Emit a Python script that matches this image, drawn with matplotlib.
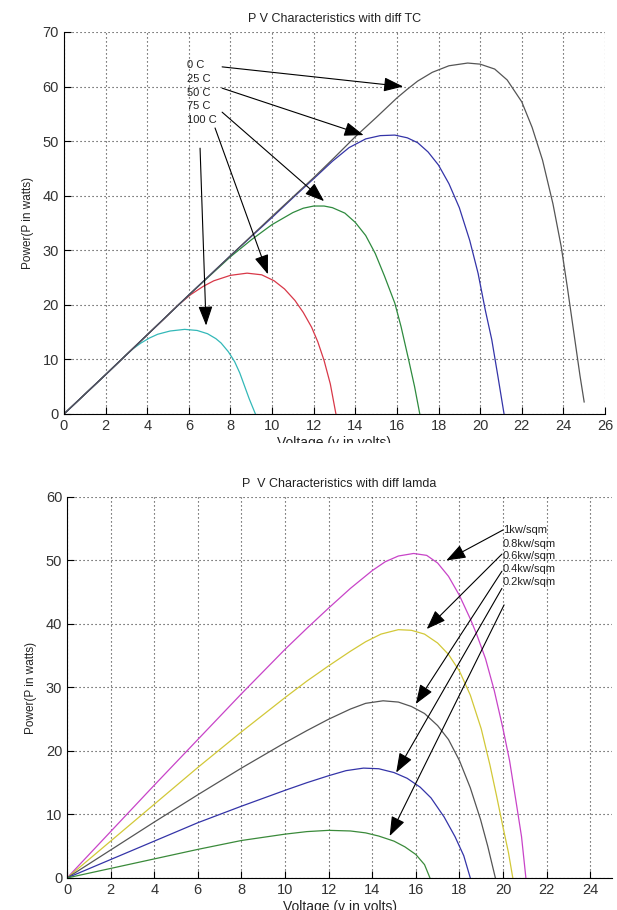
import matplotlib
matplotlib.use("Agg")
import matplotlib.pyplot as plt
from matplotlib.patches import Rectangle

plt.rcParams['font.family'] = ['Liberation Sans', 'DejaVu Sans']

# ---- top chart: P-V curves for different cell temperature ----
v_0c = [0, 2, 4, 6, 8, 10, 12, 13, 14, 15, 16, 16.5, 17, 17.7, 18.5, 19.4, 20, 20.7, 21.3,
        22, 22.5, 23, 23.5, 23.9, 24.2, 24.5, 24.8, 25]
p_0c = [0, 7.2, 14.5, 21.8, 29.0, 36.2, 43.3, 47.0, 50.8, 54.3, 57.9, 59.5, 61.0, 62.6, 63.8, 64.3,
        64.1, 63.2, 61.2, 57.2, 52.5, 46.5, 38.5, 30.6, 23.0, 15.0, 7.0, 2.2]
v_25c = [0, 2, 4, 6, 8, 10, 11, 12, 12.9, 13.7, 14.5, 15.2, 15.9, 16.5, 17, 17.5, 18, 18.5,
         19, 19.5, 19.9, 20.25, 20.56, 20.85, 21.15]
p_25c = [0, 7.2, 14.5, 21.8, 29.0, 36.0, 39.6, 43.1, 46.3, 48.8, 50.4, 51.0, 51.1, 50.6, 49.7,
         48.0, 45.6, 42.2, 37.8, 31.8, 25.8, 19.0, 13.6, 7.0, 0]
v_50c = [0, 2, 4, 6, 8, 9, 10, 11, 11.5, 12, 12.5, 12.9, 13.5, 14, 14.5, 14.96, 15.4, 15.9,
         16.2, 16.56, 16.85, 17.1]
p_50c = [0, 7.2, 14.5, 21.8, 28.8, 31.9, 34.7, 36.9, 37.7, 38.1, 38.1, 37.8, 36.8, 35.1, 32.7,
         29.4, 25.3, 20.3, 16.0, 10.0, 5.0, 0]
v_75c = [0, 2, 4, 4.8, 5.5, 6.1, 6.7, 7.2, 8, 8.8, 9.5, 10.1, 10.6, 11.1, 11.5, 11.9, 12.2,
         12.5, 12.8, 13.07]
p_75c = [0, 7.2, 14.5, 17.4, 20.0, 21.9, 23.4, 24.4, 25.4, 25.8, 25.5, 24.4, 22.9, 20.8, 18.6,
         15.9, 13.2, 9.8, 5.5, 0]
v_100c = [0, 1, 2, 2.9, 3.3, 3.7, 4.1, 4.5, 5.1, 5.8, 6.4, 6.9, 7.3, 7.55, 7.9, 8.2, 8.45,
          8.67, 8.9, 9.2]
p_100c = [0, 3.6, 7.2, 10.5, 11.9, 13.0, 13.9, 14.6, 15.2, 15.5, 15.3, 14.7, 13.8, 13.0, 11.4,
          9.6, 7.5, 5.2, 2.8, 0]

temp_labels = ['0 C', '25 C', '50 C', '75 C', '100 C']
temp_label_y = [63.9, 61.4, 58.8, 56.4, 53.8]
temp_arrow_tail = [(7.6, 63.6), (7.6, 59.7), (7.6, 55.3), (7.26, 52.4), (6.54, 48.7)]
temp_arrow_tip = [(16.3, 60.0), (14.4, 51.1), (12.5, 39.0), (9.8, 25.6), (6.83, 16.2)]

# ---- bottom chart: P-V curves for different irradiance ----
v_1kw = [0, 2, 4, 6, 8, 10, 11, 12, 13, 14, 14.6, 15.2, 15.9, 16.5, 17, 17.5, 18, 18.5, 18.8,
         19.2, 19.6, 20, 20.3, 20.6, 20.85, 21.05]
p_1kw = [0, 7.3, 14.6, 21.8, 29.0, 36.0, 39.3, 42.5, 45.6, 48.4, 49.8, 50.7, 51.1, 50.8, 49.6,
         47.5, 44.5, 40.8, 38.3, 34.5, 29.5, 23.5, 18.5, 12.0, 6.5, 0]
v_08kw = [0, 2, 4, 6, 8, 10, 11, 12, 13, 13.7, 14.4, 15.2, 15.8, 16.4, 17, 17.5, 18, 18.5, 19,
          19.4, 19.7, 20, 20.25, 20.45]
p_08kw = [0, 5.8, 11.6, 17.4, 23.0, 28.4, 31.0, 33.4, 35.7, 37.2, 38.4, 39.1, 39.0, 38.4, 37.0,
          35.2, 32.6, 28.8, 23.5, 17.8, 13.0, 8.0, 4.0, 0]
v_06kw = [0, 2, 4, 6, 8, 10, 11, 12, 13, 13.7, 14.5, 15.2, 15.8, 16.4, 17, 17.5, 18, 18.5,
          18.97, 19.3, 19.65]
p_06kw = [0, 4.4, 8.8, 13.1, 17.3, 21.3, 23.2, 25.0, 26.6, 27.5, 27.9, 27.7, 27.0, 25.9, 24.0,
          21.8, 18.5, 14.2, 9.2, 5.0, 0]
v_04kw = [0, 2, 4, 6, 8, 10, 11, 12, 12.8, 13.6, 14.3, 15, 15.6, 16.2, 16.7, 17.3, 17.8, 18.2,
          18.5]
p_04kw = [0, 2.9, 5.8, 8.7, 11.3, 13.8, 15.0, 16.1, 16.9, 17.3, 17.2, 16.6, 15.7, 14.3, 12.6,
          9.6, 6.5, 3.5, 0]
v_02kw = [0, 2, 4, 6, 8, 10, 11, 12, 13, 13.7, 14.3, 15, 15.5, 16, 16.4, 16.65]
p_02kw = [0, 1.5, 3.0, 4.5, 5.9, 6.9, 7.3, 7.5, 7.4, 7.1, 6.6, 5.8, 4.9, 3.7, 2.1, 0]

irr_labels = ['1kw/sqm', '0.8kw/sqm', '0.6kw/sqm', '0.4kw/sqm', '0.2kw/sqm']
irr_label_y = [54.8, 52.6, 50.7, 48.6, 46.6]
irr_arrow_tail = [(20.0, 54.8), (19.95, 51.0), (19.95, 48.3), (19.95, 45.6), (20.05, 43.0)]
irr_arrow_tip = [(17.4, 50.0), (16.5, 39.2), (16.0, 27.4), (15.1, 16.6), (14.8, 6.6)]

txt = '#222222'
grid_style = dict(color='#333333', linestyle=(0, (1, 2.6)), linewidth=0.8)
arrow = dict(arrowstyle='-|>,head_length=0.6,head_width=0.22', color='black',
             lw=0.8, mutation_scale=20, shrinkA=0, shrinkB=0)


def style_axes(ax, xmax, ymax, xticks, yticks):
    ax.set_xlim(0, xmax)
    ax.set_ylim(0, ymax)
    ax.set_xticks(xticks)
    ax.set_yticks(yticks)
    ax.spines['top'].set_visible(False)
    ax.spines['right'].set_visible(False)
    ax.tick_params(direction='in', length=5, width=0.8, labelsize=10.5,
                   colors='black', labelcolor='#333333')
    ax.grid(True, **grid_style)
    ax.set_axisbelow(True)
    ax.set_ylabel('Power(P in watts)', fontsize=8.5, color=txt, labelpad=6)
    ax.set_xlabel('Voltage (v in volts)', fontsize=10, color=txt, labelpad=2)


fig = plt.figure(figsize=(6.17, 9.1), dpi=100)

# top chart
ax1 = fig.add_axes([0.1037, 0.5451, 0.8768, 0.4198])
ax1.plot(v_100c, p_100c, color='#33b8b8', lw=0.9)
ax1.plot(v_75c, p_75c, color='#d83848', lw=0.9)
ax1.plot(v_50c, p_50c, color='#2e8a3e', lw=0.9)
ax1.plot(v_25c, p_25c, color='#3434a8', lw=0.9)
ax1.plot(v_0c, p_0c, color='#555555', lw=0.9)
style_axes(ax1, 26, 70, range(0, 27, 2), range(0, 71, 10))
ax1.set_title('P V Characteristics with diff TC', fontsize=9, color=txt, pad=7)
for lab, y in zip(temp_labels, temp_label_y):
    ax1.text(5.9, y, lab, fontsize=8, color=txt, va='center', ha='left')
for tail, tip in zip(temp_arrow_tail, temp_arrow_tip):
    ax1.annotate('', xy=tip, xytext=tail, arrowprops=arrow)

# bottom chart
ax2 = fig.add_axes([0.1086, 0.0352, 0.8833, 0.4187])
ax2.plot(v_1kw, p_1kw, color='#c844c8', lw=0.9)
ax2.plot(v_08kw, p_08kw, color='#d2c838', lw=0.9)
ax2.plot(v_06kw, p_06kw, color='#555555', lw=0.9)
ax2.plot(v_04kw, p_04kw, color='#3434a8', lw=0.9)
ax2.plot(v_02kw, p_02kw, color='#3a8a3a', lw=0.9)
style_axes(ax2, 25, 60, range(0, 25, 2), range(0, 61, 10))
ax2.set_title('P  V Characteristics with diff lamda', fontsize=9, color=txt, pad=7)
for lab, y in zip(irr_labels, irr_label_y):
    ax2.text(20.0, y, lab, fontsize=8, color=txt, va='center', ha='left')
for tail, tip in zip(irr_arrow_tail, irr_arrow_tip):
    ax2.annotate('', xy=tip, xytext=tail, arrowprops=arrow)

# the top figure was cropped through its x label
fig.patches.append(Rectangle((0, 0.488), 1, 0.025, transform=fig.transFigure,
                             facecolor='white', edgecolor='none', zorder=10))

fig.savefig('out.png', dpi=100)
